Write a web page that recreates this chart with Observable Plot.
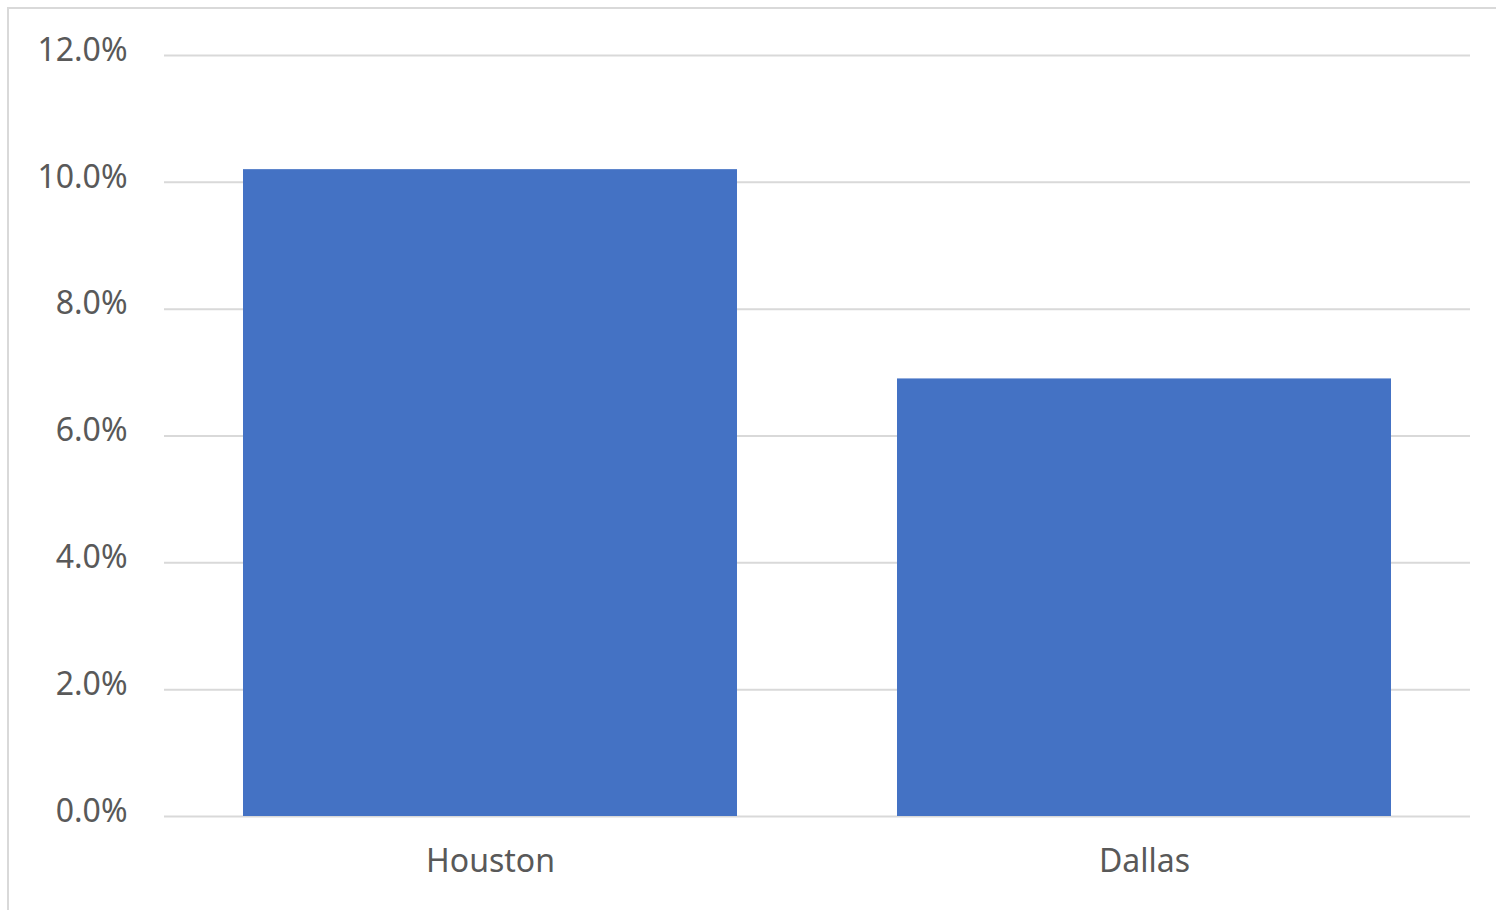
<!DOCTYPE html>
<html>
<head>
<meta charset="utf-8">
<script src="https://cdn.jsdelivr.net/npm/d3@7"></script>
<script src="https://cdn.jsdelivr.net/npm/@observablehq/plot@0.6"></script>
<style>
  html, body { margin: 0; padding: 0; background: #fff; overflow: hidden; }
  #wrap { position: relative; width: 1496px; height: 910px; }
  #border { position: absolute; left: 7px; top: 7px; width: 1500px; height: 920px;
            border-left: 2px solid #d9d9d9; border-top: 2px solid #d9d9d9; pointer-events: none; }
  #chart { position: absolute; left: 0; top: 0; }
</style>
</head>
<body>
<div id="wrap"><div id="chart"></div><div id="border"></div></div>
<script>
const cities = ["Houston", "Dallas"];
const values = [10.2, 6.9];
const yTicks = [0, 2, 4, 6, 8, 10, 12];

const data = cities.map((c, i) => ({city: c, value: values[i]}));

const chart = Plot.plot({
  width: 1496,
  height: 910,
  marginLeft: 164,
  marginRight: 26,
  marginTop: 55,
  marginBottom: 94,
  style: {fontFamily: "'Noto Sans', sans-serif", fontSize: "32px", color: "#595959", background: "#fff"},
  x: {domain: cities, paddingInner: 0.245, paddingOuter: 0.12, label: null},
  y: {domain: [0, 12], label: null},
  marks: [
    Plot.ruleY(yTicks, {stroke: "#d9d9d9", strokeWidth: 2}),
    Plot.barY(data, {x: "city", y: "value", fill: "#4472C4"}),
    Plot.axisY(yTicks, {tickSize: 0, tickPadding: 37, dy: -5, tickFormat: d => d.toFixed(1) + "%", fill: "#595959", label: null}),
    Plot.axisX({tickSize: 0, tickPadding: 33, fill: "#595959", label: null})
  ]
});
document.getElementById("chart").appendChild(chart);
</script>
</body>
</html>
